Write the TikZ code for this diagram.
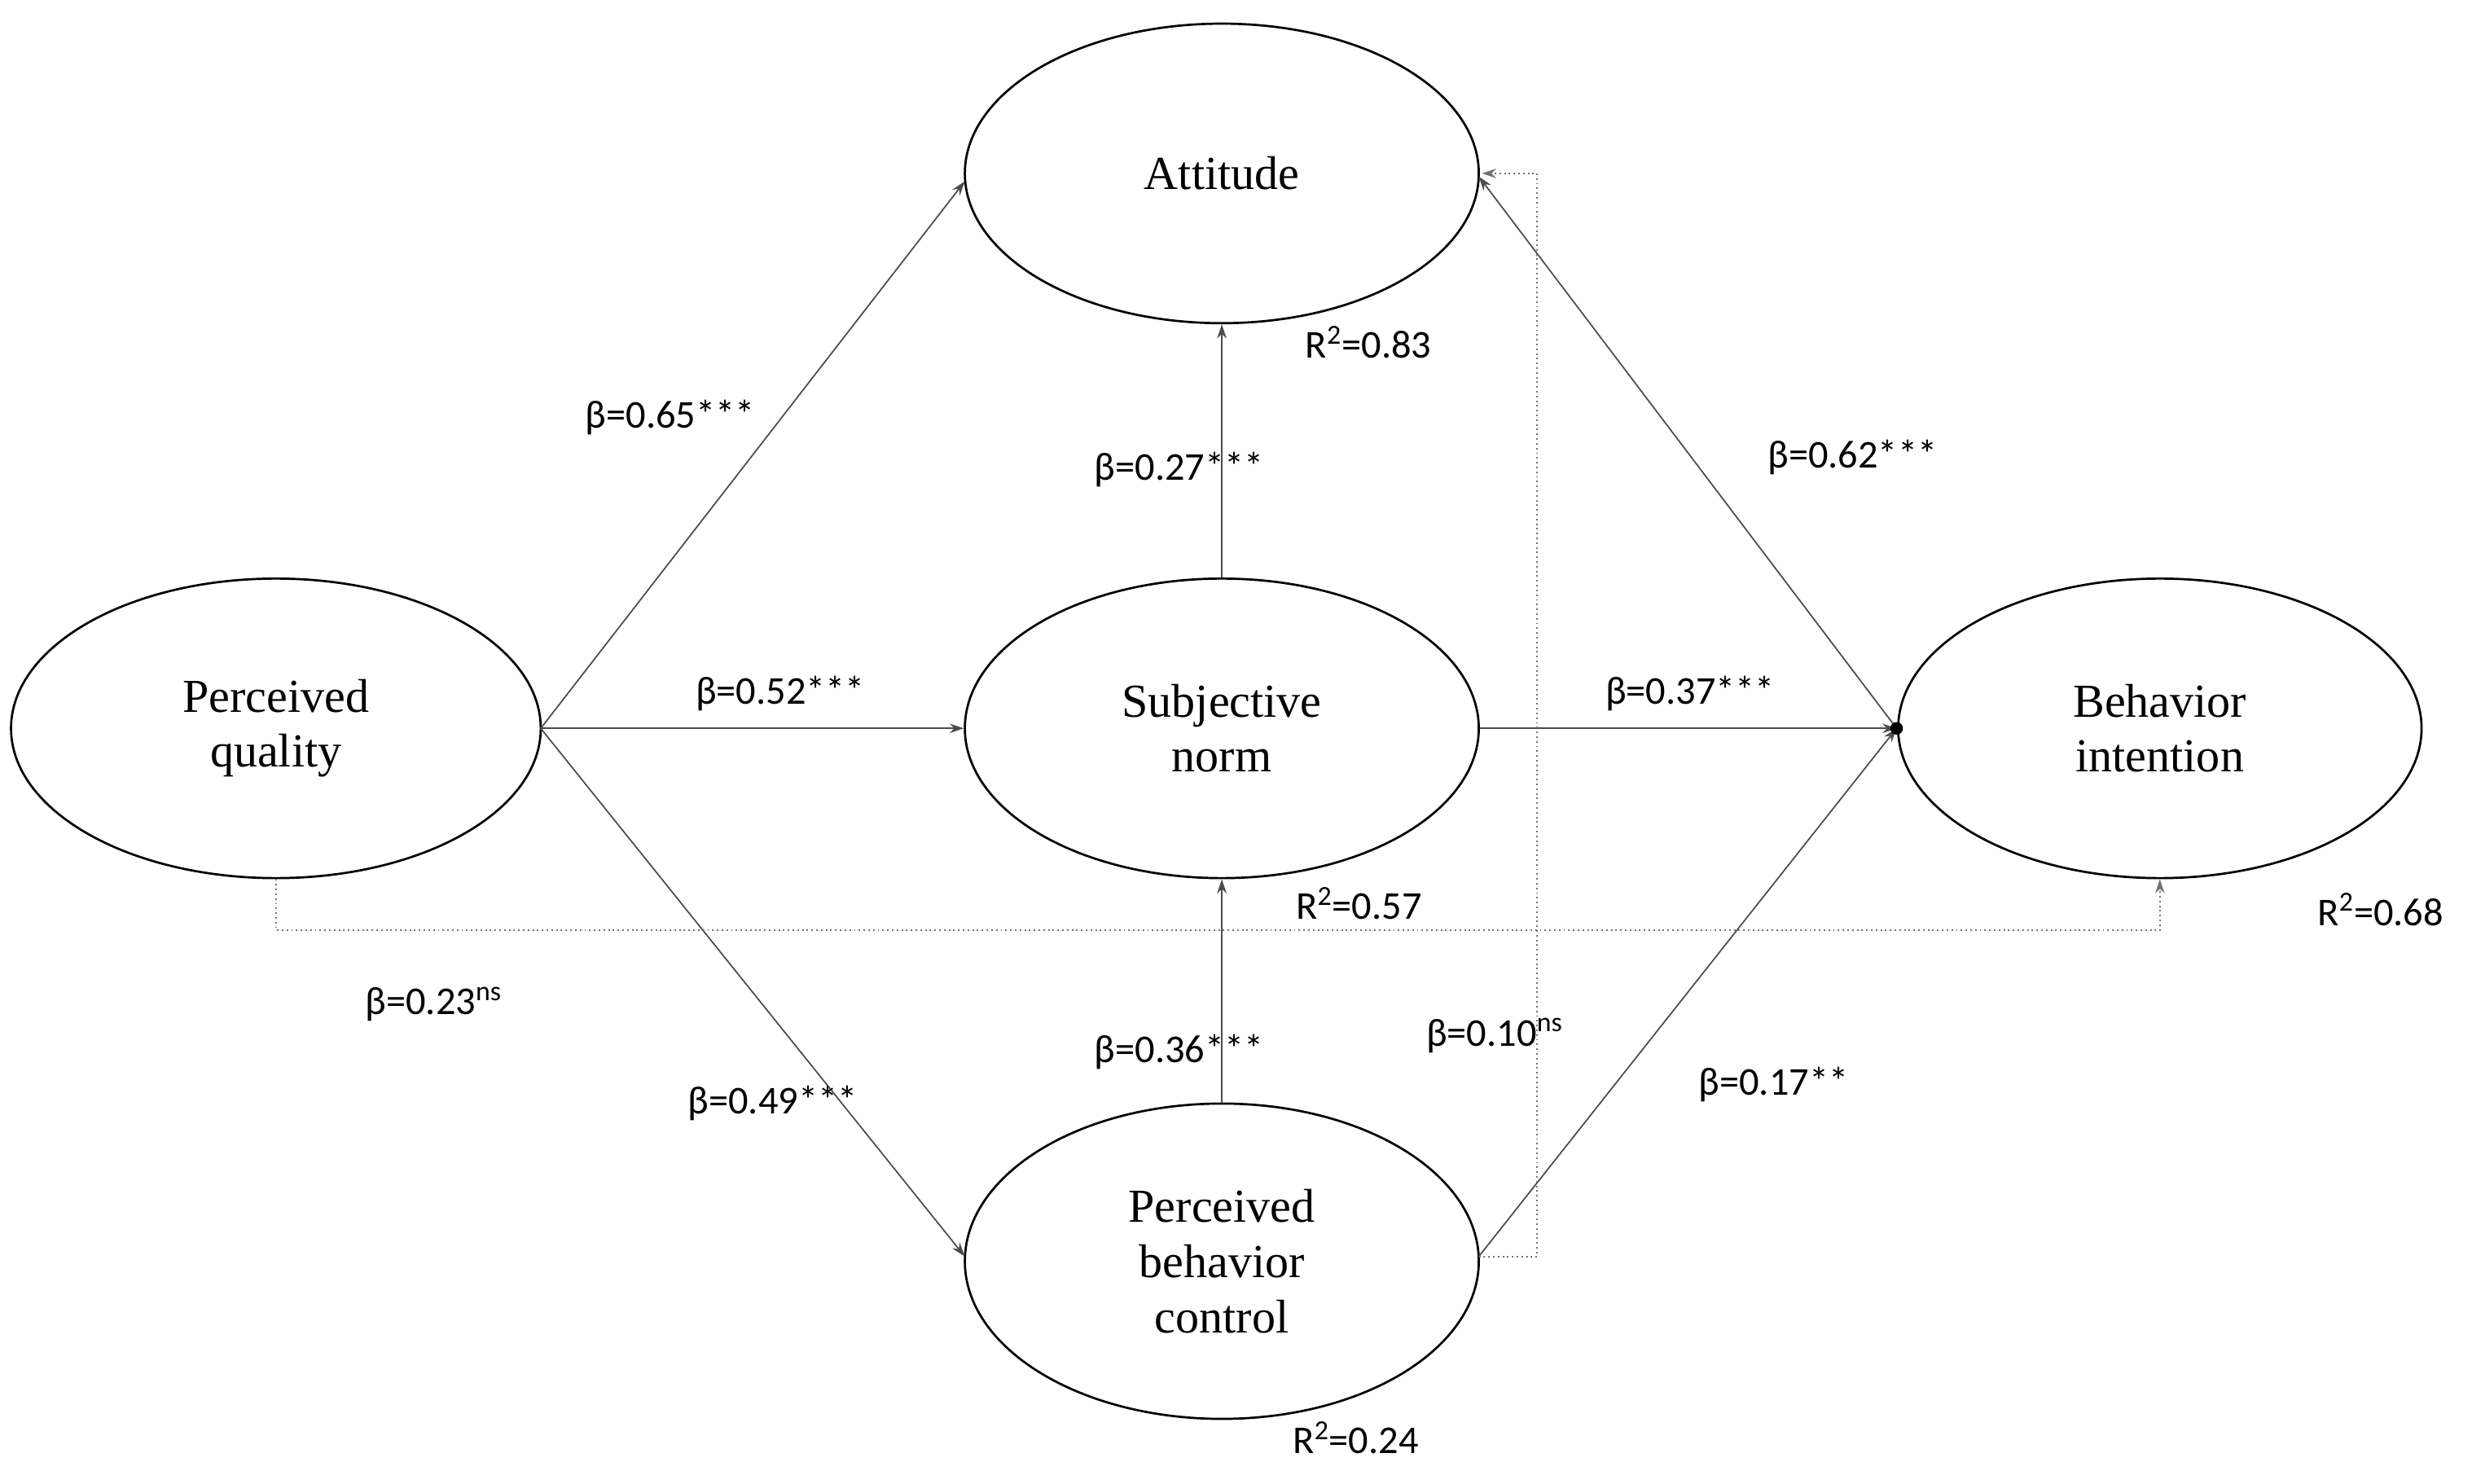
\documentclass[tikz,border=0pt]{standalone}
\usepackage{fontspec}
\setmainfont{Liberation Serif}
\newfontfamily\lab{Carlito}
\usetikzlibrary{arrows.meta,shapes.geometric}
\begin{document}
\begin{tikzpicture}[x=1pt,y=-1pt,
  lv/.style={draw,ellipse,line width=1.4pt,font=\fontsize{30}{35}\selectfont,align=center,inner sep=0pt},
  pth/.style={draw=black!70,line width=0.9pt,-{Stealth[length=9pt,width=6pt]}},
  ns/.style={draw=black!55,line width=1pt,dotted,-{Stealth[length=9pt,width=6pt]}},
  lb/.style={font=\lab\fontsize{25}{30}\selectfont,inner sep=0pt}]
\useasboundingbox (0,0) rectangle (1568,941);
\node[lv,minimum width=326,minimum height=190] (att) at (775,110) {Attitude};
\node[lv,minimum width=326,minimum height=190] (sn) at (775,462) {Subjective\\norm};
\node[lv,minimum width=336,minimum height=190] (pq) at (175,462) {Perceived\\quality};
\node[lv,minimum width=332,minimum height=190] (bi) at (1370,462) {Behavior\\intention};
\node[lv,minimum width=326,minimum height=200] (pbc) at (775,800) {Perceived\\behavior\\control};
\coordinate (pqr) at (343,462);
\coordinate (pbr) at (938,797);
\coordinate (bil) at (1203,462);
\draw[pth] (pqr) -- (612,115);
\draw[pth] (pqr) -- (sn.west);
\draw[pth] (pqr) -- (612,797);
\draw[pth] (sn.north) -- (att.south);
\draw[pth] (pbc.north) -- (sn.south);
\draw[pth] (bil) -- (938,112);
\draw[pth] (sn.east) -- (bil);
\draw[pth] (pbr) -- (bil);
\fill (bil) circle (4pt);
\draw[ns] (pq.south) |- (1370,590) -- (bi.south);
\draw[ns] (pbr) -- (975,797) -- (975,110) -- (940,110);
\node[lb] (l1) at (425,265) {β=0.65***};
\node[lb] (l2) at (495,440) {β=0.52***};
\node[lb] (l3) at (490,700) {β=0.49***};
\node[lb] (l4) at (748,298) {β=0.27***};
\node[lb] (l5) at (748,667) {β=0.36***};
\node[lb] (l6) at (868,217) {R\textsuperscript{2}=0.83};
\node[lb] (l7) at (862,573) {R\textsuperscript{2}=0.57};
\node[lb] (l8) at (860,912) {R\textsuperscript{2}=0.24};
\node[lb] (l9) at (275,637) {β=0.23\textsuperscript{ns}};
\node[lb] (l10) at (948,657) {β=0.10\textsuperscript{ns}};
\node[lb] (l11) at (1175,290) {β=0.62***};
\node[lb] (l12) at (1072,440) {β=0.37***};
\node[lb] (l13) at (1125,688) {β=0.17**};
\node[lb] (l14) at (1510,577) {R\textsuperscript{2}=0.68};
\end{tikzpicture}
\end{document}
